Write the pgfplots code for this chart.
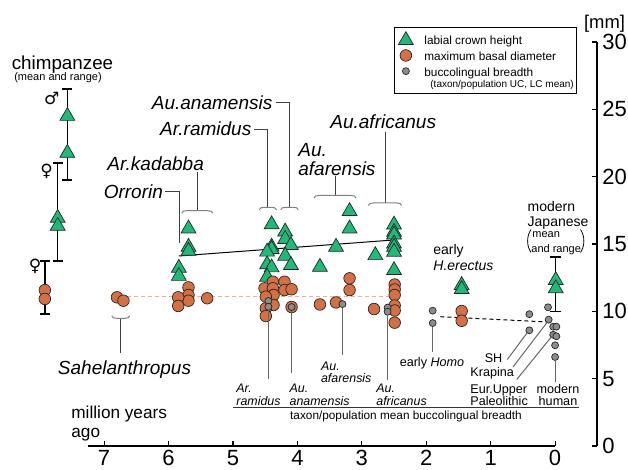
\documentclass[border=0pt]{standalone}
\usepackage{pgfplots}
\pgfplotsset{compat=1.18}
\usepackage{fontspec}
\setmainfont{Liberation Sans}
\newfontfamily\dejavu{DejaVu Sans}
\definecolor{tri}{RGB}{30,186,120}
\definecolor{circ}{RGB}{212,112,68}
\definecolor{gry}{RGB}{140,140,140}
\definecolor{salmon}{RGB}{236,176,150}
\newcommand{\fs}[1]{\fontsize{#1}{#1}\selectfont}
\newcommand{\lst}[1]{\rule[\dimexpr2.1pt-#1/2\relax]{0pt}{#1}}
\newcommand{\brk}[3]{\draw[brkc] (#1,#3+2.5) .. controls (#1+0.8,#3+0.5) and (#1+2,#3) .. (#1+5,#3) -- (#2-5,#3) .. controls (#2-2,#3) and (#2-0.8,#3+0.5) .. (#2,#3+2.5);}
\newcommand{\brkup}[3]{\draw[brkc] (#1,#3-2.5) .. controls (#1+0.8,#3-0.5) and (#1+2,#3) .. (#1+5,#3) -- (#2-5,#3) .. controls (#2-2,#3) and (#2-0.8,#3-0.5) .. (#2,#3-2.5);}
\begin{document}
\begin{tikzpicture}
\begin{scope}[x=0.5pt,y=-0.5pt]
\useasboundingbox (0,0) rectangle (628,470);
\end{scope}
% x axis
\begin{axis}[at={(44pt,-223pt)}, anchor=south west, scale only axis,
  width=233.55pt, height=202pt, x dir=reverse, xmin=0, xmax=7.25, ymin=0, ymax=30,
  axis x line=bottom, axis y line=none, x axis line style={-, line width=0.6pt},
  xtick={0,1,...,7}, tick align=inside, major tick length=2.5pt,
  tick style={line width=0.6pt, black},
  xticklabel style={inner sep=0pt, yshift=-2pt, font=\fs{11}},
  /pgf/number format/assume math mode=true]
\end{axis}
% data axis
\begin{axis}[at={(44pt,-223pt)}, anchor=south west, scale only axis,
  width=254.5pt, height=202pt, x dir=reverse, xmin=-0.65, xmax=7.25, ymin=0, ymax=30,
  clip=false, axis x line=none, axis y line=right, y axis line style={-, line width=0.6pt},
  ytick={0,5,...,30}, tick align=inside, major tick length=2.5pt,
  tick style={line width=0.6pt, black},
  yticklabel style={inner sep=0pt, xshift=2.5pt, font=\fs{11}},
  /pgf/number format/assume math mode=true,
  legend style={at={(0.601,1.036)}, anchor=north west, draw=black, line width=0.5pt,
    font=\fs{5.9}, inner xsep=1.5pt, inner ysep=1.85pt, row sep=0pt, column sep=5pt,
    nodes={inner sep=0pt}, cells={anchor=west}},
  legend cell align=left,
  legend image code/.code={\path (0pt,-3.2pt) (8pt,3.2pt); \draw[#1] plot coordinates {(4pt,0pt)};},
]
% range bars
\addplot[forget plot, black, line width=0.75pt, mark=-, mark size=2.5pt, mark options={solid, line width=0.75pt}] coordinates {(7.57,19.75) (7.57,26.51)};
\addplot[forget plot, black, line width=0.75pt, mark=-, mark size=2.5pt, mark options={solid, line width=0.75pt}] coordinates {(7.72,13.74) (7.72,21.01)};
\addplot[forget plot, black, line width=0.75pt, mark=-, mark size=2.5pt, mark options={solid, line width=0.75pt}] coordinates {(7.92,9.80) (7.92,13.74)};
\addplot[forget plot, black, line width=0.75pt, mark=-, mark size=2.75pt, mark options={solid, line width=0.75pt}] coordinates {(-0.01,9.97) (-0.01,14.03)};
% trend lines
\addplot[forget plot, black, line width=0.5pt] coordinates {(5.84,14.11) (2.50,15.30)};
\addplot[forget plot, salmon, line width=0.7pt, dash pattern=on 2pt off 1.5pt] coordinates {(6.64,11.08) (2.53,11.08)};
\addplot[forget plot, black, line width=0.5pt, dash pattern=on 2pt off 1.5pt] coordinates {(1.78,9.60) (0.12,9.21)};
% labial crown height
\addplot[only marks, mark=triangle*, mark size=4.3pt, mark options={fill=tri, draw=black!85, line width=0.35pt}] coordinates {
(7.57,24.50) (7.57,21.76) (7.72,16.93) (7.72,16.34)
(5.69,16.14) (5.69,14.78) (5.69,14.48) (5.84,13.22) (5.84,12.62)
(4.40,16.45) (4.19,15.91) (4.19,15.36) (4.10,14.91) (4.40,14.79) (4.40,14.61) (4.47,14.42) (4.19,14.12) (4.10,13.43) (4.47,13.48) (4.40,13.25) (4.47,12.56)
(3.19,17.43) (3.19,16.14) (3.40,14.78) (3.65,13.29)
(2.79,14.16) (2.50,16.43) (2.50,15.89) (2.50,15.69) (2.50,15.02) (2.50,14.78) (2.50,14.41) (2.50,13.05)
(1.45,11.94) (1.45,11.64)
(-0.01,12.31) (-0.01,11.70)};
\addlegendentry{\lst{8pt}labial crown height}
% maximum basal diameter
\addplot[only marks, mark=*, mark size=2.9pt, mark options={fill=circ, draw=black!85, line width=0.35pt}] coordinates {
(7.92,11.58) (7.92,10.92)
(6.80,11.04) (6.70,10.79)
(5.69,11.78) (5.69,11.21) (5.69,10.79) (5.85,11.04) (5.85,10.40) (5.40,10.97)
(4.38,12.20) (4.51,11.71) (4.38,11.71) (4.37,11.21) (4.49,11.09) (4.37,10.47) (4.49,10.22) (4.49,9.65)
(4.20,12.20) (4.20,11.58) (4.09,11.64) (4.09,10.32)
(3.19,12.45) (3.19,11.58) (3.40,10.66) (3.65,10.51)
(2.81,10.17) (2.49,11.99) (2.49,11.62) (2.49,11.21) (2.49,10.43) (2.49,10.06) (2.49,9.16)
(1.45,10.02) (1.45,9.30)};
\addlegendentry{\lst{8pt}maximum basal diameter}
% buccolingual breadth
\addplot[only marks, mark=*, mark size=1.75pt, mark options={fill=gry, draw=black!85, line width=0.35pt}] coordinates {
(4.45,10.77) (4.45,10.34) (4.09,10.32) (3.30,10.54) (2.60,10.28) (2.60,9.97)
(1.90,10.05) (1.90,9.13) (0.40,9.79) (0.40,8.59)
(0.11,10.30) (0.10,9.38) (0.03,8.86) (-0.02,8.86) (0.03,8.26) (-0.02,8.15) (0.00,7.48) (0.00,6.61)};
\addlegendentry{\lst{9pt}buccolingual breadth}
\addlegendimage{empty legend}
\addlegendentry{\hspace*{3pt}\fs{5}\lst{3.6pt}(taxon/population UC, LC mean)}
\end{axis}
% annotations in pixel coordinates
\begin{scope}[x=0.5pt,y=-0.5pt, lbl/.style={inner sep=0pt, text depth=0pt},
  lead/.style={black!75, line width=0.5pt}, brkc/.style={black!50, line width=0.5pt},
  low/.style={black!60, line width=0.5pt}]
\node[lbl, anchor=base] at (604.5,28.3) {\fs{9.2}[mm]};
% chimp
\node[lbl] at (62.5,62.3) {\fs{9.4}chimpanzee};
\node[lbl] at (58,76.7) {\fs{5.5}(mean and range)};
\node at (51.7,98.3) {\dejavu\bfseries\fs{8.5}♂};
\node at (46.7,171.7) {\dejavu\bfseries\fs{8.5}♀};
\node at (35,266.7) {\dejavu\bfseries\fs{8.5}♀};
% upper taxon labels
\node[lbl, anchor=east] at (272.7,102.7) {\fs{9.5}\itshape Au.anamensis};
\node[lbl, anchor=east] at (251.7,128.3) {\fs{9.5}\itshape Ar.ramidus};
\node[lbl, anchor=west] at (107,164) {\fs{9.5}\itshape Ar.kadabba};
\node[lbl, anchor=east] at (163.3,191.7) {\fs{9.5}\itshape Orrorin};
\node[lbl, anchor=west] at (330,121.7) {\fs{9.5}\itshape Au.africanus};
\node[lbl, anchor=west] at (298,150) {\fs{9.5}\itshape Au.};
\node[lbl, anchor=west] at (298,168.3) {\fs{9.5}\itshape afarensis};
\node[lbl] at (124.5,367.3) {\fs{9.5}\itshape Sahelanthropus};
\draw[lead] (165,191.7) -- (179,191.7) -- (179,243);
\draw[lead] (197.3,171.7) -- (197.3,210.7);
\draw[lead] (254,130) -- (267.7,130) -- (267.7,207.3);
\draw[lead] (276,102.7) -- (289.3,102.7) -- (289.3,207.3);
\draw[lead] (335,176) -- (335,195.5);
\draw[lead] (385,131.7) -- (385,203);
\draw[lead] (120.7,318.3) -- (120.7,352.7);
\brk{181.7}{212.7}{210.7}
\brk{259.3}{276.5}{207.3}
\brk{280.7}{298.3}{207.3}
\brk{314}{356}{195.5}
\brk{368.3}{401.7}{203}
\brkup{111.7}{129.7}{318.3}
% lower leaders
\draw[low] (268.3,310.5) -- (268.3,379.3);
\draw[low] (291,311) -- (291,373.3);
\draw[low] (342.7,308) -- (342.7,355);
\draw[low] (387.3,315.5) -- (387.3,380);
\draw[low] (432.7,327) -- (432.7,351.7);
\draw[low] (555,360.5) -- (555,381.7);
\draw[low] (507.3,359.5) -- (527,333);
\draw[low] (513,367) -- (547,322.5);
\draw[low] (516.7,379.5) -- (551.7,336.5);
\draw[black!80, line width=0.6pt] (233,407.3) -- (579.3,407.3);
% lower labels
\node[lbl, anchor=west] at (236,388.3) {\fs{6.2}\itshape Ar.};
\node[lbl, anchor=west] at (236,400.7) {\fs{6.2}\itshape ramidus};
\node[lbl, anchor=west] at (289.3,388.3) {\fs{6.2}\itshape Au.};
\node[lbl, anchor=west] at (289.3,400.7) {\fs{6.2}\itshape anamensis};
\node[lbl, anchor=west] at (320.7,366) {\fs{6.2}\itshape Au.};
\node[lbl, anchor=west] at (320.7,378.3) {\fs{6.2}\itshape afarensis};
\node[lbl, anchor=west] at (376,388.3) {\fs{6.2}\itshape Au.};
\node[lbl, anchor=west] at (376,400.7) {\fs{6.2}\itshape africanus};
\node[lbl] at (432,361.7) {\fs{6.3}early \textit{Homo}};
\node[lbl, anchor=east] at (502.7,357.7) {\fs{6.3}SH};
\node[lbl, anchor=west] at (470,372.3) {\fs{6.3}Krapina};
\node[lbl, anchor=west] at (470,389.3) {\fs{6.3}Eur.Upper};
\node[lbl, anchor=west] at (470,400.7) {\fs{6.3}Paleolithic};
\node[lbl] at (558,389.3) {\fs{6.3}modern};
\node[lbl] at (558,400.7) {\fs{6.3}human};
\node[lbl] at (406,415) {\fs{5.9}taxon/population mean buccolingual breadth};
% right labels
\node[lbl, anchor=west] at (433,249.3) {\fs{7}early};
\node[lbl, anchor=west] at (433,266) {\fs{7}\itshape H.erectus};
\node[lbl, anchor=west] at (527.3,206.7) {\fs{7}modern};
\node[lbl, anchor=west] at (527.3,221.7) {\fs{7}Japanese};
\node[lbl, anchor=west] at (532,235) {\fs{5.5}mean};
\node[lbl, anchor=west] at (531,248.3) {\fs{5.5}and range};
\draw[black, line width=0.4pt] (531,229.5) .. controls (526.5,236) and (526.5,246) .. (531,252.5);
\draw[black, line width=0.4pt] (580.5,229.5) .. controls (585,236) and (585,246) .. (580.5,252.5);
% x axis label
\node[lbl, anchor=west] at (71,412.7) {\fs{8.6}million years};
\node[lbl, anchor=west] at (71,432.5) {\fs{8.6}ago};
\end{scope}
\end{tikzpicture}
\end{document}
